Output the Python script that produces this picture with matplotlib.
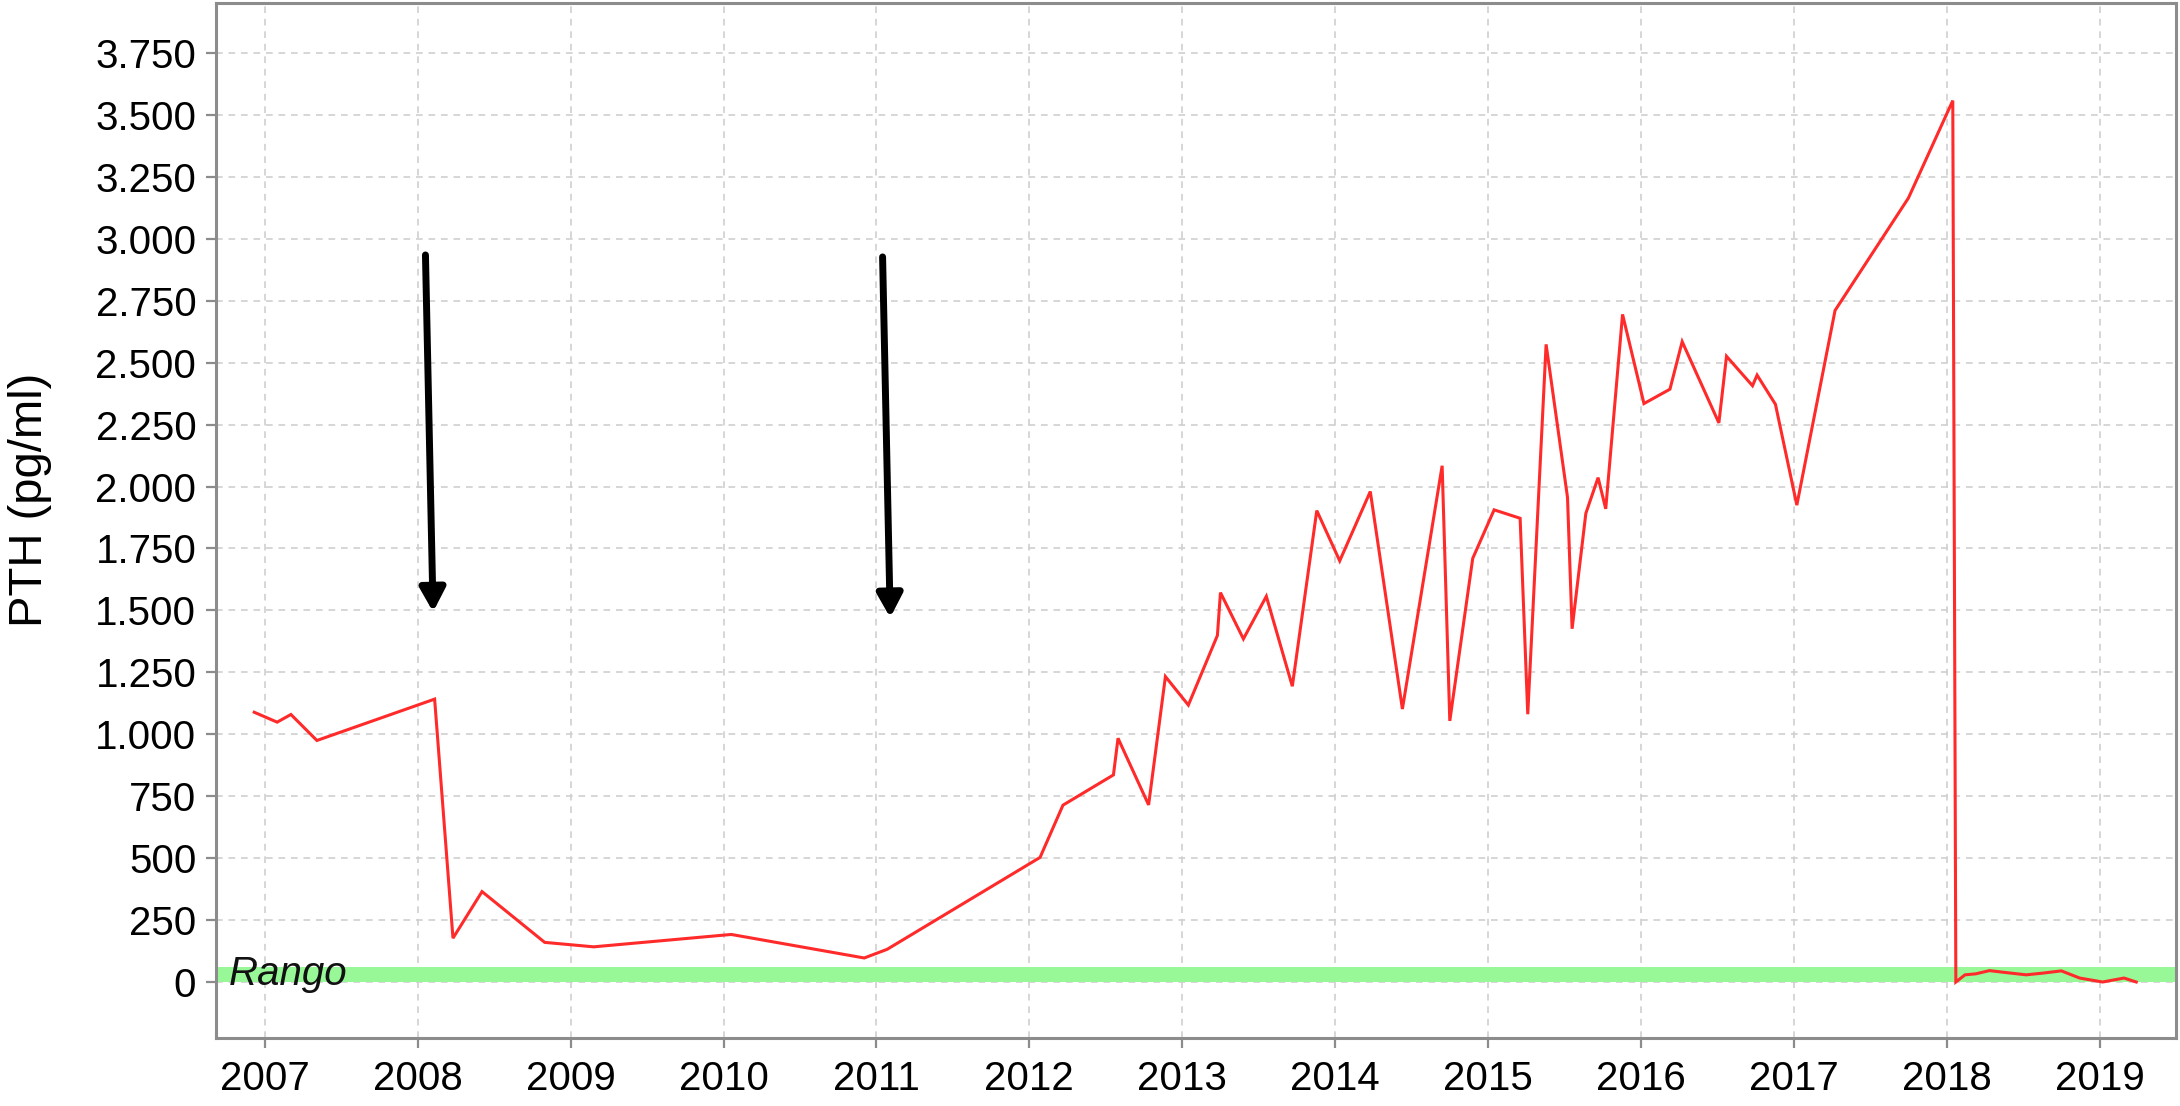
import matplotlib
matplotlib.use("Agg")
import matplotlib.pyplot as plt
from matplotlib.ticker import FuncFormatter

plt.rcParams['font.family'] = ['Liberation Sans', 'DejaVu Sans']

# ---- data (decimal years, PTH pg/ml) ----
dates = [2006.93, 2007.08, 2007.17, 2007.34, 2008.11, 2008.23, 2008.42, 2008.83,
         2009.15, 2010.05, 2010.92, 2011.07, 2012.07, 2012.22, 2012.55, 2012.58,
         2012.78, 2012.89, 2013.04, 2013.23, 2013.25, 2013.40, 2013.55, 2013.72,
         2013.88, 2014.03, 2014.23, 2014.44, 2014.70, 2014.75, 2014.90, 2015.04,
         2015.21, 2015.26, 2015.38, 2015.52, 2015.55, 2015.64, 2015.72, 2015.77,
         2015.88, 2016.02, 2016.19, 2016.27, 2016.51, 2016.56, 2016.73, 2016.76,
         2016.88, 2017.02, 2017.27, 2017.75, 2018.04, 2018.06, 2018.12, 2018.19,
         2018.28, 2018.39, 2018.52, 2018.63, 2018.75, 2018.87, 2019.02, 2019.16,
         2019.24]
pth = [1089, 1049, 1080, 975, 1142, 177, 365, 160,
       142, 192, 97, 132, 503, 714, 836, 984,
       715, 1233, 1118, 1399, 1572, 1385, 1557, 1194,
       1903, 1700, 1980, 1102, 2084, 1054, 1710, 1906,
       1872, 1081, 2574, 1956, 1426, 1892, 2036, 1910,
       2695, 2335, 2393, 2585, 2257, 2526, 2407, 2450,
       2332, 1925, 2711, 3165, 3558, 0, 29, 33,
       46, 38, 29, 36, 45, 16, 0, 16,
       0]

range_low, range_high = 0, 62
range_label = "Rango"

year_ticks = list(range(2007, 2020))
y_ticks = [0, 250, 500, 750, 1000, 1250, 1500, 1750, 2000, 2250, 2500, 2750,
           3000, 3250, 3500, 3750]

# arrows: (x_top, y_top) -> (x_tip, y_tip)
arrow_tops = [(2008.05, 2935), (2011.04, 2927)]
arrow_tips = [(2008.10, 1494), (2011.09, 1471)]

ylabel = "PTH (pg/ml)"

# ---- figure ----
fig = plt.figure(figsize=(21.8, 11.06), dpi=100)
ax = fig.add_axes([216/2180, 68/1106, 1960/2180, 1035/1106])

ax.set_xlim(2006.68, 2019.50)
ax.set_ylim(-226, 3952)

ax.axhspan(range_low, range_high, color='#98f898', zorder=2, lw=0)
ax.text(2006.765, -12, range_label, fontsize=29, style='italic',
        color='#111111', va='baseline', ha='left', zorder=4)

ax.plot(dates, pth, color='#ff2a2a', lw=2.2, zorder=3, solid_joinstyle='miter')

for (xt, yt), (xp, yp) in zip(arrow_tops, arrow_tips):
    ax.annotate('', xy=(xp, yp), xytext=(xt, yt),
                arrowprops=dict(arrowstyle='-|>,head_width=0.38,head_length=0.7',
                                mutation_scale=20, lw=5, color='black',
                                shrinkA=0, shrinkB=0),
                zorder=5)

ax.set_xticks(year_ticks)
ax.set_xticklabels([str(y) for y in year_ticks])
ax.set_yticks(y_ticks)
ax.yaxis.set_major_formatter(FuncFormatter(lambda v, p: f"{int(v):,}".replace(",", ".")))

ax.grid(True, color='#cfcfcf', lw=1.2, linestyle=(0, (4, 3.5)), zorder=1)
ax.set_axisbelow(True)

for s in ax.spines.values():
    s.set_color('#8c8c8c')
    s.set_linewidth(2.2)

ax.tick_params(axis='both', which='major', labelsize=29, length=7.2, width=1.6,
               color='#8c8c8c', direction='out')
ax.tick_params(axis='y', pad=7)
ax.tick_params(axis='x', pad=9)

ax.set_ylabel(ylabel, fontsize=34)
ax.yaxis.set_label_coords(-0.0837, 0.52)

fig.savefig("out.png", dpi=100, facecolor='white')
